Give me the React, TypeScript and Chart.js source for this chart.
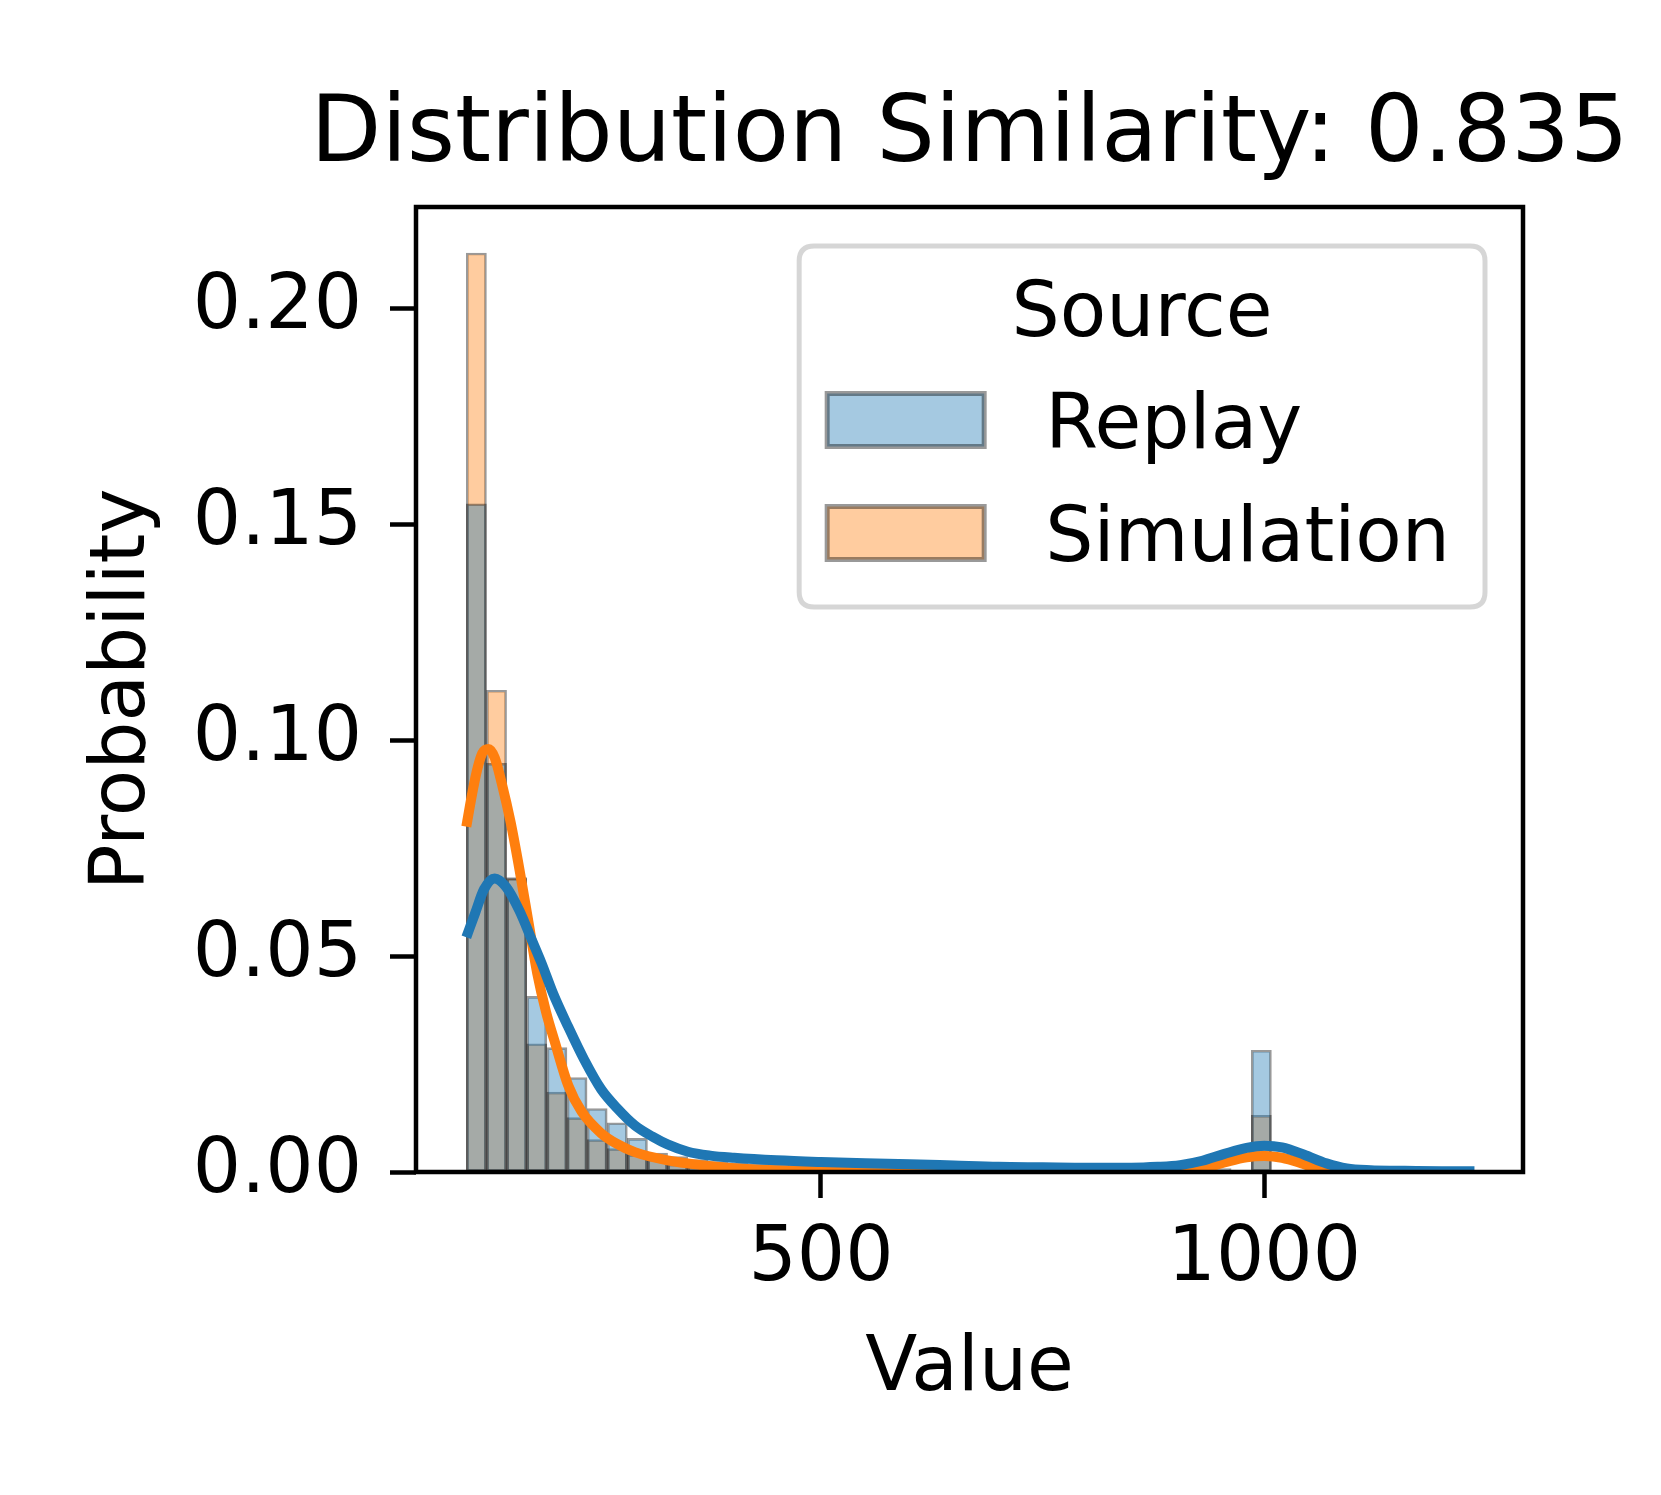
import React, { useEffect, useRef } from "react";
import { Chart, registerables } from "chart.js";

Chart.register(...registerables);

const TITLE = "Distribution Similarity: 0.835";
const X_LABEL = "Value";
const Y_LABEL = "Probability";
const LEGEND_TITLE = "Source";
const SERIES_NAMES = ["Replay", "Simulation"];

// histogram bins: 50 equal bins starting at 100
const BIN_START = 100;
const BIN_WIDTH = 22.7;

const replayProb = [
  0.1548, 0.0947, 0.068, 0.0407, 0.0288, 0.0219, 0.0147, 0.0114, 0.0078, 0.0044,
  0.0036, 0.0029, 0.0024, 0.0021, 0.0019, 0.0018, 0.0017, 0.0016, 0.0015, 0.0014,
  0.0014, 0.0013, 0.0012, 0.0012, 0.0011, 0.001, 0.001, 0.0009, 0.0009, 0.0008,
  0.0008, 0.0008, 0.0009, 0.001, 0.0012, 0.0014, 0.0011, 0.0008, 0.0004, 0.0282,
  0.0004, 0.0005, 0.0004, 0.0003, 0.0002, 0.0002, 0.0002, 0.0001, 0.0001, 0.0002,
];

const simulationProb = [
  0.2129, 0.1116, 0.0682, 0.0297, 0.0185, 0.0126, 0.0075, 0.0054, 0.004, 0.003,
  0.0018, 0.001, 0.0006, 0.0003, 0.0002, 0.0001, 0.0001, 0, 0, 0,
  0, 0, 0, 0, 0, 0, 0, 0, 0, 0,
  0, 0, 0, 0, 0, 0, 0, 0, 0.0002, 0.0131,
  0.0002, 0, 0, 0, 0, 0, 0, 0, 0, 0,
];

// KDE curves
const replayKdeX = [
  100, 110, 120, 132, 145, 160, 174, 185, 198, 215, 233, 252, 270, 290, 310, 327, 350, 375,
  402, 450, 500, 550, 600, 650, 700, 750, 800, 850, 880, 905, 930, 955, 980, 1000, 1020,
  1045, 1070, 1093, 1120, 1150, 1200, 1237,
];
const replayKdeY = [
  0.0544, 0.06, 0.0655, 0.068, 0.066, 0.0605, 0.0537, 0.0483, 0.0413, 0.0336, 0.026, 0.0192,
  0.0148, 0.0108, 0.0082, 0.0064, 0.0047, 0.0038, 0.0033, 0.0027, 0.0023, 0.002, 0.0018,
  0.0015, 0.0012, 0.0011, 0.001, 0.001, 0.0012, 0.0016, 0.0026, 0.0042, 0.0056, 0.0061,
  0.0057, 0.004, 0.002, 0.0008, 0.0004, 0.0003, 0.0002, 0.0002,
];

const simulationKdeX = [
  100, 106, 112, 118, 125, 132, 140, 150, 160, 170, 180, 190, 200, 215, 230, 252, 270, 290,
  327, 365, 402, 450, 500, 600, 700, 800, 900, 930, 955, 980, 1000, 1020, 1045, 1060, 1080,
  1100,
];
const simulationKdeY = [
  0.08, 0.087, 0.093, 0.097, 0.098, 0.096, 0.09, 0.081, 0.07, 0.058, 0.046, 0.037, 0.03,
  0.02, 0.014, 0.009, 0.0065, 0.0046, 0.0027, 0.0016, 0.0009, 0.0004, 0.0002, 0.0001,
  0.0001, 0.0001, 0.0003, 0.0008, 0.0022, 0.0034, 0.0037, 0.0033, 0.0018, 0.0008, 0.0002,
  0.0001,
];

const xTicks = [500, 1000];
const yTicks = [0, 0.05, 0.1, 0.15, 0.2];
const X_MIN = 43.25;
const X_MAX = 1291.75;
const Y_MAX = 0.22355;

const BLUE = "#1f77b4";
const ORANGE = "#ff7f0e";
const BLUE_FILL = "rgba(31,119,180,0.4)";
const ORANGE_FILL = "rgba(255,127,14,0.4)";
const EDGE = "rgba(0,0,0,0.4)";
const FONT = '"DejaVu Sans"';
const FS = 76;
const TITLE_FS = 92;

const binCenters = replayProb.map((_, i) => BIN_START + BIN_WIDTH * (i + 0.5));

const framePlugin = {
  id: "frame",
  afterDatasetsDraw(chart: any) {
    const { ctx, chartArea: a } = chart;
    ctx.save();
    ctx.strokeStyle = "#000";
    ctx.lineWidth = 4.5;
    ctx.strokeRect(a.left, a.top, a.right - a.left, a.bottom - a.top);
    ctx.restore();
  },
};

const titlePlugin = {
  id: "axesTitle",
  afterDraw(chart: any) {
    const { ctx, chartArea: a } = chart;
    ctx.save();
    ctx.font = `${TITLE_FS}px ${FONT}`;
    ctx.fillStyle = "#000";
    ctx.textAlign = "center";
    ctx.textBaseline = "alphabetic";
    ctx.fillText(TITLE, (a.left + a.right) / 2, a.top - 46);
    ctx.restore();
  },
};

const legendPlugin = {
  id: "boxLegend",
  afterDraw(chart: any) {
    const { ctx, chartArea: a } = chart;
    const fills = [BLUE_FILL, ORANGE_FILL];
    ctx.save();
    ctx.font = `${FS}px ${FONT}`;
    const textW = Math.max(...SERIES_NAMES.map((s) => ctx.measureText(s).width));
    const handleW = 157;
    const boxW = 28 + handleW + 61 + textW + 35;
    const right = a.right - 38;
    const top = a.top + 39;
    const left = right - boxW;
    const h = 361;
    const r = 15;
    ctx.beginPath();
    ctx.moveTo(left + r, top);
    ctx.lineTo(right - r, top);
    ctx.quadraticCurveTo(right, top, right, top + r);
    ctx.lineTo(right, top + h - r);
    ctx.quadraticCurveTo(right, top + h, right - r, top + h);
    ctx.lineTo(left + r, top + h);
    ctx.quadraticCurveTo(left, top + h, left, top + h - r);
    ctx.lineTo(left, top + r);
    ctx.quadraticCurveTo(left, top, left + r, top);
    ctx.closePath();
    ctx.fillStyle = "rgba(255,255,255,0.8)";
    ctx.fill();
    ctx.strokeStyle = "rgba(204,204,204,0.8)";
    ctx.lineWidth = 5;
    ctx.stroke();

    ctx.fillStyle = "#000";
    ctx.textBaseline = "alphabetic";
    ctx.textAlign = "center";
    ctx.fillText(LEGEND_TITLE, (left + right) / 2, top + 90);

    ctx.textAlign = "left";
    SERIES_NAMES.forEach((name, i) => {
      const base = top + 202 + i * 113;
      const cy = base - 28;
      const hx = left + 28;
      ctx.fillStyle = fills[i];
      ctx.fillRect(hx, cy - 26.5, handleW, 53);
      ctx.strokeStyle = EDGE;
      ctx.lineWidth = 5;
      ctx.strokeRect(hx, cy - 26.5, handleW, 53);
      ctx.fillStyle = "#000";
      ctx.fillText(name, hx + handleW + 61, base);
    });
    ctx.restore();
  },
};

export default function App() {
  const ref = useRef<HTMLCanvasElement | null>(null);

  useEffect(() => {
    if (!ref.current) return;
    const chart = new Chart(ref.current, {
      type: "bar",
      data: {
        datasets: [
          {
            type: "line",
            label: "Replay KDE",
            data: replayKdeX.map((x, i) => ({ x, y: replayKdeY[i] })),
            borderColor: BLUE,
            borderWidth: 10,
            pointRadius: 0,
            fill: false,
            cubicInterpolationMode: "monotone",
            order: 0,
          } as any,
          {
            type: "line",
            label: "Simulation KDE",
            data: simulationKdeX.map((x, i) => ({ x, y: simulationKdeY[i] })),
            borderColor: ORANGE,
            borderWidth: 10,
            pointRadius: 0,
            fill: false,
            cubicInterpolationMode: "monotone",
            order: 1,
          } as any,
          {
            type: "bar",
            label: SERIES_NAMES[0],
            data: binCenters.map((x, i) => ({ x, y: replayProb[i] })),
            backgroundColor: BLUE_FILL,
            borderColor: EDGE,
            borderWidth: 2,
            borderSkipped: false,
            grouped: false,
            barPercentage: 1,
            categoryPercentage: 1,
            order: 2,
          } as any,
          {
            type: "bar",
            label: SERIES_NAMES[1],
            data: binCenters.map((x, i) => ({ x, y: simulationProb[i] })),
            backgroundColor: ORANGE_FILL,
            borderColor: EDGE,
            borderWidth: 2,
            borderSkipped: false,
            grouped: false,
            barPercentage: 1,
            categoryPercentage: 1,
            order: 3,
          } as any,
        ],
      },
      options: {
        animation: false,
        responsive: false,
        devicePixelRatio: 1,
        layout: { padding: { left: 0, right: 138, top: 207, bottom: 0 } },
        plugins: {
          legend: { display: false },
          tooltip: { enabled: false },
          title: { display: false },
        },
        scales: {
          x: {
            type: "linear",
            min: X_MIN,
            max: X_MAX,
            offset: false,
            grid: {
              display: true,
              offset: false,
              drawOnChartArea: false,
              drawTicks: true,
              tickLength: 26,
              tickWidth: 4.5,
              tickColor: "#000",
            },
            border: { display: false },
            afterFit: (s: any) => {
              s.height = 323;
            },
            afterBuildTicks: (s: any) => {
              s.ticks = xTicks.map((v) => ({ value: v }));
            },
            ticks: {
              autoSkip: false,
              maxRotation: 0,
              padding: 17,
              color: "#000",
              font: { family: FONT, size: FS },
              callback: (v: any) => String(v),
            },
            title: {
              display: true,
              text: X_LABEL,
              color: "#000",
              font: { family: FONT, size: FS },
              padding: { top: 0, bottom: 79 },
            },
          },
          y: {
            type: "linear",
            min: 0,
            max: Y_MAX,
            grid: {
              display: true,
              drawOnChartArea: false,
              drawTicks: true,
              tickLength: 26,
              tickWidth: 4.5,
              tickColor: "#000",
            },
            border: { display: false },
            afterFit: (s: any) => {
              s.width = 416;
            },
            afterBuildTicks: (s: any) => {
              s.ticks = yTicks.map((v) => ({ value: v }));
            },
            ticks: {
              autoSkip: false,
              padding: 28,
              color: "#000",
              font: { family: FONT, size: FS },
              callback: (v: any) => Number(v).toFixed(2),
            },
            title: {
              display: true,
              text: Y_LABEL,
              color: "#000",
              font: { family: FONT, size: FS },
              padding: { top: 79, bottom: 0 },
            },
          },
        },
      } as any,
      plugins: [framePlugin, titlePlugin, legendPlugin],
    });
    return () => chart.destroy();
  }, []);

  return (
    <div style={{ position: "absolute", left: 0, top: 0, width: 1661, height: 1495, background: "#fff" }}>
      <canvas ref={ref} width={1661} height={1495} style={{ width: 1661, height: 1495 }} />
    </div>
  );
}
